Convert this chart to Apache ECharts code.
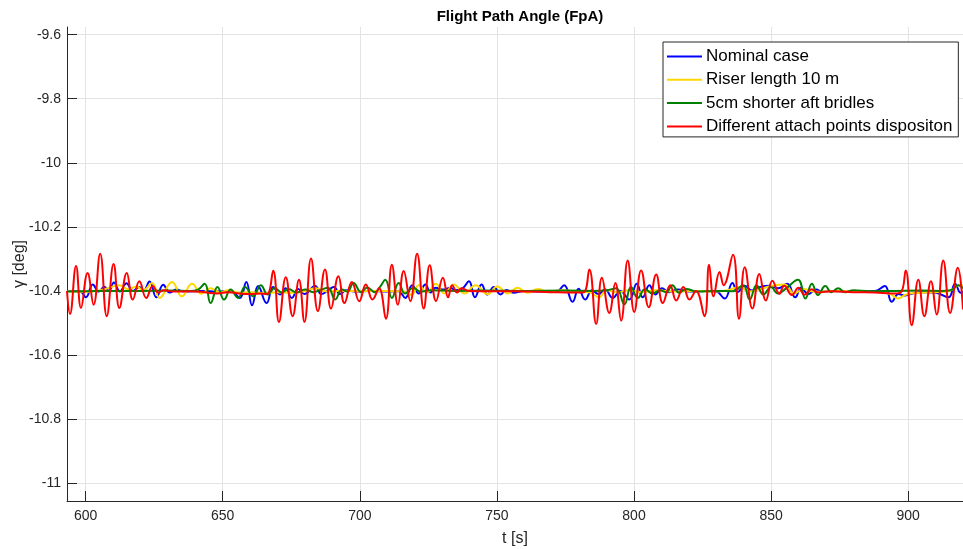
<!DOCTYPE html>
<html>
<head>
<meta charset="utf-8">
<title>Flight Path Angle (FpA)</title>
<script src="https://cdn.jsdelivr.net/npm/echarts@6/dist/echarts.min.js"></script>
<style>
  html, body { margin: 0; padding: 0; background: #fff; }
  #chart { width: 963px; height: 549px; }
</style>
</head>
<body>
<div id="chart"></div>
<script>
// Flight path angle gamma [deg] versus time t [s], one [t, gamma] list per case.
const seriesNames = [
  'Nominal case',
  'Riser length 10 m',
  '5cm shorter aft bridles',
  'Different attach points dispositon'
];

const xTicks = [600, 650, 700, 750, 800, 850, 900];
const yTicks = [-11, -10.8, -10.6, -10.4, -10.2, -10, -9.8, -9.6];

const nominal = [
  [593.2,-10.400],[598,-10.402],[600.1,-10.420],[602.6,-10.380],[604.8,-10.402],[606.8,-10.387],
  [608.5,-10.400],[610.3,-10.374],[612.5,-10.402],[614.9,-10.376],[617.2,-10.400],[619.5,-10.388],
  [621.2,-10.398],[623.3,-10.371],[625.8,-10.420],[628.3,-10.381],[630.7,-10.405],[633,-10.396],
  [636,-10.402],[642,-10.400],[648,-10.402],[653,-10.400],[656.2,-10.422],[658.6,-10.372],
  [660.7,-10.445],[662.9,-10.385],[666.0,-10.438],[668.4,-10.388],[670.9,-10.411],[672.9,-10.392],
  [675.2,-10.422],[677.5,-10.394],[679.8,-10.410],[683.7,-10.385],[686.0,-10.410],[688.5,-10.398],
  [690.5,-10.388],[692.8,-10.410],[695,-10.398],[698,-10.402],[704,-10.400],[710,-10.402],
  [714,-10.401],[716.6,-10.422],[719.1,-10.382],[721.5,-10.408],[723.9,-10.380],[725.8,-10.405],
  [727.6,-10.390],[730.6,-10.396],[733,-10.390],[735,-10.398],[737.5,-10.392],[739.8,-10.370],
  [742.0,-10.420],[744.4,-10.380],[746.5,-10.411],[748.9,-10.388],[751.3,-10.411],[753.5,-10.397],
  [756,-10.406],[760,-10.400],[766,-10.402],[772,-10.401],[774.5,-10.382],[777.6,-10.434],
  [779.8,-10.393],[782.2,-10.427],[784.7,-10.398],[787,-10.410],[789.5,-10.396],[792.2,-10.422],
  [795,-10.400],[798.3,-10.427],[801.0,-10.378],[803.2,-10.420],[805.6,-10.382],[807.8,-10.411],
  [810.2,-10.392],[812.8,-10.404],[816,-10.396],[820,-10.402],[826,-10.400],[830,-10.402],
  [833.1,-10.424],[835.9,-10.375],[837.8,-10.404],[840.4,-10.384],[843,-10.399],[846,-10.388],
  [849.5,-10.384],[852.5,-10.392],[855.9,-10.378],[858.8,-10.420],[861,-10.390],[863.5,-10.410],
  [866.5,-10.396],[868.5,-10.402],[872,-10.400],[880,-10.402],[888,-10.400],[891.5,-10.385],
  [894.0,-10.434],[896.5,-10.410],[898.8,-10.414],[901,-10.410],[905,-10.404],[910,-10.406],
  [914.7,-10.420],[917.1,-10.378],[919.2,-10.406],[920,-10.402]
];

const riser10m = [
  [593.2,-10.401],[600,-10.403],[604,-10.400],[608,-10.392],[612.3,-10.382],[615.5,-10.395],
  [618.5,-10.386],[621,-10.398],[624.2,-10.375],[627.0,-10.422],[631.5,-10.372],[635.1,-10.417],
  [638.8,-10.378],[642.2,-10.409],[645.5,-10.392],[649,-10.405],[652,-10.398],[656,-10.406],
  [660,-10.404],[665,-10.407],[670,-10.404],[675,-10.406],[680,-10.400],[684,-10.392],
  [688,-10.402],[692,-10.400],[700,-10.401],[710,-10.400],[716,-10.402],[718.8,-10.412],
  [721.5,-10.382],[724.5,-10.405],[727.6,-10.378],[730.8,-10.408],[734.3,-10.380],[738.2,-10.408],
  [742.2,-10.382],[746.5,-10.410],[750.2,-10.386],[754,-10.408],[757.5,-10.390],[761.2,-10.406],
  [765,-10.394],[769,-10.404],[773,-10.398],[780,-10.402],[784,-10.405],[787.3,-10.420],
  [790,-10.398],[794,-10.405],[798,-10.398],[803,-10.404],[808,-10.398],[815,-10.402],
  [822,-10.400],[830,-10.402],[834,-10.398],[838.6,-10.388],[842,-10.402],[846,-10.394],
  [850,-10.385],[854.9,-10.380],[858.5,-10.408],[862,-10.394],[866,-10.403],[872,-10.400],
  [882,-10.402],[890,-10.404],[893.5,-10.410],[896.4,-10.424],[899,-10.412],[904,-10.406],
  [910,-10.404],[915,-10.400],[919,-10.380],[920,-10.385]
];

const shorterBridles = [
  [593.2,-10.402],[600,-10.401],[610,-10.400],[620,-10.400],[630,-10.399],[638,-10.400],
  [641,-10.396],[643.4,-10.378],[645.6,-10.438],[648.1,-10.388],[650.5,-10.427],[652.9,-10.396],
  [655.6,-10.422],[658.1,-10.388],[661.1,-10.417],[663.9,-10.382],[666.4,-10.411],[669.0,-10.391],
  [671.5,-10.405],[674,-10.394],[677,-10.405],[680,-10.396],[683,-10.404],[686,-10.396],
  [688.4,-10.390],[691.0,-10.427],[693.5,-10.396],[695.5,-10.402],[697.7,-10.375],[700.5,-10.404],
  [702.7,-10.389],[705.5,-10.404],[707.5,-10.386],[709.3,-10.365],[711.7,-10.422],[714.2,-10.375],
  [716.5,-10.408],[719.5,-10.390],[722,-10.402],[726,-10.398],[735,-10.400],[745,-10.399],
  [760,-10.400],[775,-10.399],[785,-10.400],[790,-10.398],[793.5,-10.392],[796.5,-10.442],
  [798.9,-10.388],[801.4,-10.422],[804,-10.395],[806.8,-10.408],[809.5,-10.398],[811.8,-10.404],
  [814.0,-10.382],[816.5,-10.406],[819,-10.394],[823,-10.402],[830,-10.400],[836,-10.401],
  [839.8,-10.382],[842.2,-10.427],[844.7,-10.382],[847.2,-10.411],[850,-10.388],[852.5,-10.408],
  [855.5,-10.392],[859.8,-10.365],[862.5,-10.424],[864.9,-10.378],[867.1,-10.413],[869.8,-10.385],
  [872,-10.404],[874.5,-10.392],[877,-10.404],[880,-10.398],[886,-10.401],[895,-10.400],
  [905,-10.399],[912,-10.400],[915.5,-10.398],[918.3,-10.382],[920,-10.392]
];

const attachPoints = [
  [593.2,-10.400],[594.3,-10.472],[596.5,-10.322],[598.3,-10.453],[600.7,-10.344],[602.9,-10.443],
  [605.3,-10.284],[607.7,-10.479],[610.2,-10.316],[612.3,-10.453],[615.0,-10.344],[617.2,-10.427],
  [619.6,-10.370],[622.1,-10.422],[624.5,-10.385],[626.5,-10.405],[628.5,-10.398],[632,-10.402],
  [638,-10.401],[644,-10.405],[648,-10.408],[652,-10.404],[656,-10.408],[660,-10.410],
  [664,-10.408],[666.2,-10.410],[668.4,-10.337],[670.5,-10.497],[673.0,-10.357],[675.5,-10.479],
  [677.8,-10.365],[679.8,-10.497],[682.2,-10.299],[684.7,-10.463],[687.3,-10.333],[689.5,-10.455],
  [692.2,-10.354],[694.4,-10.438],[697.1,-10.372],[699.8,-10.432],[702.2,-10.380],[704.6,-10.427],
  [707.0,-10.392],[709.5,-10.487],[711.7,-10.318],[713.9,-10.443],[716.0,-10.338],[718.4,-10.432],
  [720.9,-10.284],[723.3,-10.455],[725.5,-10.320],[727.8,-10.432],[730.3,-10.359],[732.2,-10.420],
  [733.7,-10.382],[735.5,-10.405],[737.0,-10.392],[740,-10.400],[750,-10.401],[760,-10.402],
  [770,-10.404],[778,-10.405],[781.5,-10.405],[783.7,-10.333],[786.2,-10.503],[788.3,-10.359],
  [791.0,-10.469],[793.2,-10.375],[795.3,-10.493],[797.7,-10.305],[800.1,-10.466],[802.6,-10.336],
  [805.4,-10.451],[808.1,-10.349],[810.5,-10.438],[813.2,-10.382],[815.4,-10.430],[818.0,-10.388],
  [820.2,-10.427],[822.6,-10.400],[825.7,-10.479],[827.4,-10.318],[829.0,-10.417],[831.2,-10.341],
  [832.7,-10.382],[836.1,-10.287],[838.3,-10.487],[840.4,-10.326],[843.2,-10.455],[845.7,-10.347],
  [848.1,-10.430],[850.5,-10.368],[853.0,-10.409],[854.8,-10.384],[857.6,-10.413],[860.0,-10.390],
  [862.2,-10.412],[864.8,-10.395],[867,-10.405],[872,-10.401],[880,-10.404],[888,-10.405],
  [894,-10.408],[897.2,-10.405],[899.1,-10.336],[901.3,-10.507],[903.7,-10.365],[905.9,-10.479],
  [908.3,-10.370],[910.4,-10.474],[912.8,-10.305],[915.3,-10.469],[918.1,-10.328],[920.0,-10.458]
];

const seriesData = [nominal, riser10m, shorterBridles, attachPoints];
const seriesColors = ['#0000ff', '#ffd700', '#008000', '#ff0000'];

const axisColor = '#262626';
const gridColor = '#e3e3e3';
const fontFamily = '"Liberation Sans", Arial, Helvetica, sans-serif';

const chart = echarts.init(document.getElementById('chart'), null, { renderer: 'canvas' });

chart.setOption({
  animation: false,
  backgroundColor: '#ffffff',
  textStyle: { fontFamily: fontFamily },
  title: {
    text: 'Flight Path Angle (FpA)',
    left: 515,
    top: 4,
    textAlign: 'center',
    textStyle: { fontSize: 15, fontWeight: 'bold', color: '#000', fontFamily: fontFamily }
  },
  grid: { left: 67, top: 27, right: 0, bottom: 48, containLabel: false, outerBoundsMode: 'none' },
  legend: {
    orient: 'vertical',
    left: 663,
    top: 42,
    padding: [6, 6, 2, 4],
    itemGap: 6.3,
    itemWidth: 35,
    itemHeight: 2,
    icon: 'rect',
    backgroundColor: '#ffffff',
    borderColor: axisColor,
    borderWidth: 1,
    borderRadius: 0,
    textStyle: { fontSize: 17, color: '#000', fontFamily: fontFamily, padding: [0, 0, 0, -1] },
    data: seriesNames
  },
  xAxis: {
    type: 'value',
    min: 593.2,
    max: 920,
    name: 't [s]',
    nameLocation: 'middle',
    nameGap: 30,
    nameMoveOverlap: false,
    nameTextStyle: { fontSize: 16, color: axisColor },
    axisLine: { show: true, lineStyle: { color: axisColor, width: 1 } },
    axisTick: { show: true, inside: true, length: 10, customValues: xTicks, lineStyle: { color: axisColor } },
    axisLabel: { customValues: xTicks, fontSize: 14, color: axisColor, margin: 8 },
    splitLine: { show: true, lineStyle: { color: gridColor, width: 1 } }
  },
  yAxis: {
    type: 'value',
    min: -11.056,
    max: -9.576,
    name: '\u03b3 [deg]',
    nameLocation: 'middle',
    nameGap: 39,
    nameRotate: 90,
    nameMoveOverlap: false,
    nameTextStyle: { fontSize: 16, color: axisColor },
    axisLine: { show: true, lineStyle: { color: axisColor, width: 1 } },
    axisTick: { show: true, inside: true, length: 10, customValues: yTicks, lineStyle: { color: axisColor } },
    axisLabel: {
      customValues: yTicks,
      fontSize: 14,
      color: axisColor,
      margin: 6,
      formatter: function (v) { return String(Math.round(v * 10) / 10); }
    },
    splitLine: { show: true, lineStyle: { color: gridColor, width: 1 } }
  },
  series: seriesNames.map(function (name, i) {
    return {
      name: name,
      type: 'line',
      data: seriesData[i],
      symbol: 'none',
      smooth: 0.45,
      clip: true,
      lineStyle: { color: seriesColors[i], width: 2 },
      itemStyle: { color: seriesColors[i] },
      z: 2 + i
    };
  })
});
</script>
</body>
</html>
